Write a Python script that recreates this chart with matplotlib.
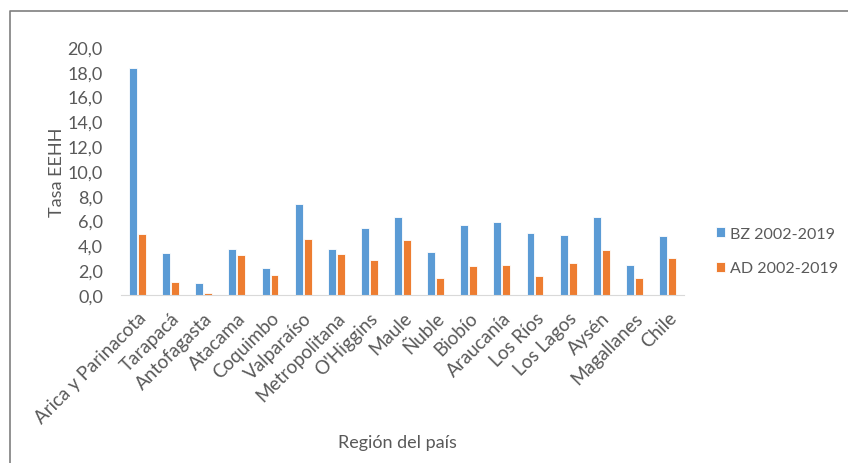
import numpy as np
import matplotlib.pyplot as plt
from matplotlib.lines import Line2D

regions = ['Arica y Parinacota', 'Tarapacá', 'Antofagasta', 'Atacama', 'Coquimbo',
           'Valparaíso', 'Metropolitana', "O'Higgins", 'Maule', 'Ñuble', 'Biobío',
           'Araucanía', 'Los Ríos', 'Los Lagos', 'Aysén', 'Magallanes', 'Chile']
bz = [18.3, 3.4, 0.95, 3.7, 2.2, 7.3, 3.75, 5.4, 6.3, 3.5, 5.65,
      5.9, 5.0, 4.85, 6.3, 2.45, 4.75]
ad = [4.9, 1.05, 0.2, 3.2, 1.6, 4.5, 3.3, 2.85, 4.4, 1.4, 2.35,
      2.45, 1.5, 2.6, 3.65, 1.4, 2.95]
yticks = np.arange(0, 21, 2)

plt.rcParams['font.family'] = ['Lato', 'DejaVu Sans']
gray = '#595959'
blue = '#5B9BD5'
orange = '#ED7D31'

fig = plt.figure(figsize=(8.48, 4.64), dpi=100)
ax = fig.add_axes([121/848, 1 - 296/464, (684 - 121)/848, (296 - 48)/464])

x = np.arange(len(regions))
w = 0.24
ax.bar(x - 0.135, bz, w, color=blue, edgecolor='white', linewidth=0.6, label='BZ 2002-2019')
ax.bar(x + 0.135, ad, w, color=orange, edgecolor='white', linewidth=0.6, label='AD 2002-2019')

ax.set_xlim(-0.5, len(regions) - 0.5)
ax.set_ylim(0, 20)
ax.set_yticks(yticks)
ax.set_yticklabels([f'{v:.1f}'.replace('.', ',') for v in yticks], fontsize=13, color=gray)
ax.set_xticks(x)
ax.set_xticklabels(regions, rotation=45, ha='right', rotation_mode='anchor',
                   fontsize=13.5, color=gray)
ax.tick_params(axis='both', length=0)
ax.tick_params(axis='y', pad=13)
ax.tick_params(axis='x', pad=10)
for s in ['top', 'right', 'left']:
    ax.spines[s].set_visible(False)
ax.spines['bottom'].set_color('#D9D9D9')

ax.set_ylabel('Tasa EEHH', fontsize=13, color=gray, labelpad=2)
fig.text(397/848, 1 - 443/464, 'Región del país', fontsize=13, color=gray,
         ha='center', va='center')

ax.legend(loc='center left', bbox_to_anchor=(716/848, 1 - 252/464),
          bbox_transform=fig.transFigure, frameon=False, fontsize=11.5,
          labelcolor=gray, handlelength=0.55, handleheight=0.55,
          handletextpad=0.35, labelspacing=1.3, borderaxespad=0, borderpad=0)

# outer frame (left and top edges only)
fig.add_artist(Line2D([10/848, 10/848, 1], [0, 1 - 12/464, 1 - 12/464],
                      transform=fig.transFigure, color='#7F7F7F', linewidth=1.2))

fig.savefig('out.png', dpi=100)
